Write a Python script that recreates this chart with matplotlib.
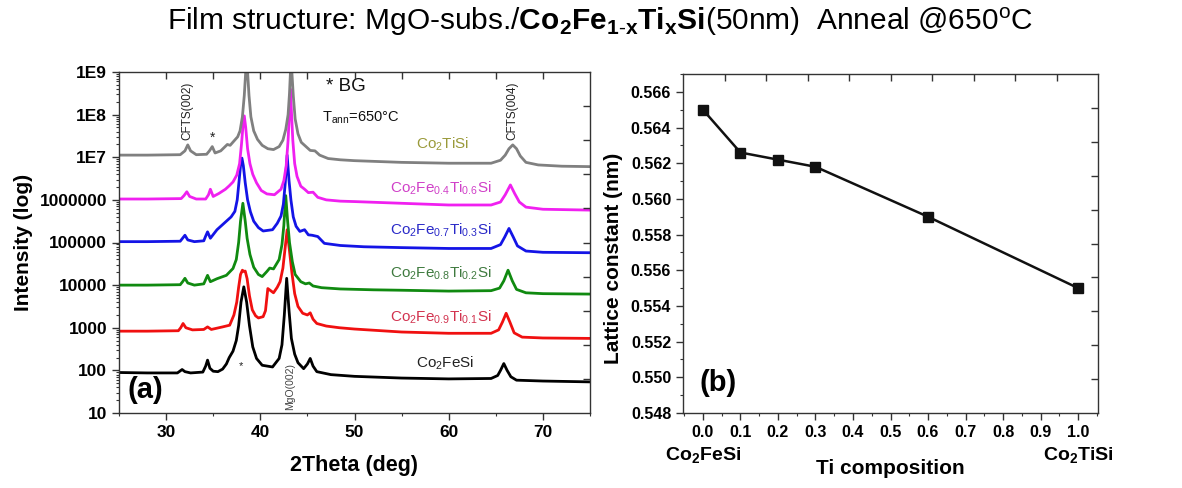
import numpy as np
import matplotlib
matplotlib.use("Agg")
import matplotlib.pyplot as plt
from matplotlib.ticker import MultipleLocator, LogLocator, FormatStrFormatter, NullFormatter

plt.rcParams['font.family'] = ['Liberation Sans', 'DejaVu Sans']
plt.rcParams['mathtext.fontset'] = 'custom'
plt.rcParams['mathtext.rm'] = 'Liberation Sans'
plt.rcParams['mathtext.it'] = 'Liberation Sans:italic'
plt.rcParams['mathtext.bf'] = 'Liberation Sans:bold'
plt.rcParams['mathtext.default'] = 'regular'

# ---------------- XRD scans (2theta in deg, log10 of intensity, offset stacks) ----------------
tt_co2tisi = [25, 28, 31.5, 32.0, 32.3, 32.6, 33.2, 34.3, 34.6, 34.9, 35.2, 35.8, 36.5, 36.8, 37.2,
              37.6, 37.85, 38.1, 38.3, 38.45, 38.55, 38.65, 38.8, 39.0, 39.3, 39.7, 40.2, 40.8, 41.4,
              42.0, 42.4, 42.7, 42.95, 43.1, 43.2, 43.25, 43.35, 43.5, 43.7, 44.0, 44.35, 44.9, 45.3,
              45.8, 46.3, 47.2, 48.5, 50, 55, 60, 64.5, 65.5, 66.0, 66.4, 66.8, 67.2, 67.6, 68.2,
              69.5, 72, 75]
logi_co2tisi = [7.05, 7.05, 7.06, 7.15, 7.29, 7.15, 7.06, 7.07, 7.15, 7.25, 7.1, 7.15, 7.3, 7.28, 7.38,
                7.48, 7.62, 7.95, 8.45, 9.0, 9.6, 9.0, 8.45, 7.95, 7.62, 7.42, 7.28, 7.2, 7.18,
                7.25, 7.4, 7.65, 8.0, 8.5, 9.0, 9.6, 9.0, 8.45, 7.9, 7.55, 7.35, 7.24, 7.16,
                7.15, 7.05, 6.97, 6.94, 6.92, 6.88, 6.86, 6.86, 6.93, 7.05, 7.2, 7.29, 7.2, 7.03, 6.88,
                6.82, 6.79, 6.78]

tt_x06 = [25, 28, 31.6, 31.9, 32.2, 32.5, 33.2, 34.2, 34.5, 34.7, 35.0, 35.6, 36.3, 36.7, 37.1, 37.5,
          37.8, 38.0, 38.15, 38.3, 38.45, 38.65, 38.9, 39.2, 39.6, 40.1, 40.7, 41.5, 42.2, 42.5, 42.75,
          42.95, 43.1, 43.2, 43.3, 43.45, 43.65, 43.9, 44.3, 44.7, 45.1, 45.6, 46.1, 47, 48.5, 50, 55,
          60, 64.5, 65.5, 66.0, 66.55, 67.0, 67.5, 68.2, 70, 75]
logi_x06 = [6.02, 6.02, 6.03, 6.1, 6.19, 6.08, 6.02, 6.02, 6.12, 6.25, 6.08, 6.15, 6.25, 6.33, 6.42, 6.58,
            6.85, 7.3, 7.7, 7.97, 7.7, 7.2, 6.85, 6.6, 6.4, 6.22, 6.14, 6.12, 6.25, 6.45, 6.8,
            7.4, 8.1, 8.6, 8.1, 7.4, 6.85, 6.55, 6.32, 6.25, 6.17, 6.18, 6.06, 6.0, 5.97, 5.96, 5.92,
            5.88, 5.88, 5.95, 6.12, 6.35, 6.15, 5.95, 5.83, 5.78, 5.76]

tt_x03 = [25, 28, 31.5, 31.75, 32.0, 32.3, 33.0, 34.0, 34.2, 34.4, 34.7, 35.4, 36.0, 36.5, 36.9, 37.3,
          37.55, 37.75, 37.9, 38.05, 38.2, 38.4, 38.65, 38.95, 39.3, 39.8, 40.3, 41.3, 41.8, 42.2, 42.45,
          42.65, 42.85, 43.05, 43.25, 43.5, 43.8, 44.2, 44.7, 45.1, 45.5, 46.1, 46.8, 48.5, 51, 55,
          60, 64.5, 65.5, 65.95, 66.4, 66.85, 67.3, 68.2, 70, 75]
logi_x03 = [5.02, 5.02, 5.03, 5.1, 5.17, 5.06, 5.02, 5.04, 5.15, 5.25, 5.1, 5.3, 5.42, 5.52, 5.6, 5.73,
            6.0, 6.45, 6.8, 6.98, 6.8, 6.4, 6.0, 5.72, 5.5, 5.35, 5.27, 5.3, 5.45, 5.62, 5.9,
            6.4, 7.05, 6.45, 6.0, 5.6, 5.38, 5.26, 5.3, 5.18, 5.17, 5.14, 4.98, 4.93, 4.9, 4.88,
            4.86, 4.86, 4.95, 5.13, 5.33, 5.13, 4.92, 4.8, 4.77, 4.76]

tt_x02 = [25, 28, 31.5, 31.75, 32.0, 32.3, 33.0, 34.0, 34.2, 34.4, 34.7, 35.4, 36.4, 37.1, 37.45, 37.7,
          37.9, 38.15, 38.4, 38.6, 38.9, 39.3, 39.8, 40.2, 40.7, 41.0, 41.4, 42.0, 42.3, 42.5, 42.7,
          42.9, 43.1, 43.4, 43.7, 44.3, 44.8, 45.2, 45.6, 46.5, 48.5, 52, 55, 60, 64.5, 65.4, 65.85,
          66.3, 66.75, 67.2, 68.2, 70, 75]
logi_x02 = [4.0, 4.0, 4.01, 4.08, 4.16, 4.05, 4.0, 4.03, 4.13, 4.23, 4.08, 4.15, 4.23, 4.39, 4.6, 5.0,
            5.5, 5.92, 5.5, 5.1, 4.72, 4.42, 4.25, 4.2, 4.32, 4.4, 4.38, 4.6, 4.95, 5.4, 6.1,
            5.5, 5.0, 4.55, 4.25, 4.08, 4.03, 4.05, 3.98, 3.94, 3.91, 3.89, 3.88, 3.86, 3.87, 3.93, 4.1,
            4.35, 4.1, 3.9, 3.82, 3.8, 3.79]

tt_x01 = [25, 28, 31.3, 31.55, 31.8, 32.1, 32.8, 34.0, 34.4, 34.8, 36.0, 36.75, 37.2, 37.5, 37.7,
          37.9, 38.1, 38.25, 38.4, 38.6, 38.85, 39.15, 39.5, 39.8, 40.3, 40.55, 40.8, 41.1, 41.4,
          41.8, 42.1, 42.4, 42.6, 42.85, 43.1, 43.35, 43.65, 44.0, 44.5, 45.0, 45.3, 45.6, 46.0, 47,
          48.4, 50, 55, 60, 64.5, 65.3, 65.7, 66.1, 66.5, 66.95, 67.8, 70, 75]
logi_x01 = [2.92, 2.92, 2.93, 3.0, 3.1, 3.0, 2.95, 2.96, 3.02, 2.96, 3.02, 3.06, 3.3, 3.6, 3.95,
            4.25, 4.35, 4.32, 4.33, 4.15, 3.75, 3.42, 3.28, 3.23, 3.26, 3.4, 3.92, 3.87, 3.82,
            3.95, 4.08, 4.4, 4.8, 5.3, 4.8, 4.3, 3.8, 3.5, 3.34, 3.3, 3.35, 3.2, 3.1, 3.04,
            3.0, 2.97, 2.9, 2.87, 2.87, 2.95, 3.13, 3.34, 3.13, 2.88, 2.78, 2.76, 2.75]

tt_co2fesi = [25, 28, 31.2, 31.45, 31.7, 32.0, 32.6, 33.9, 34.2, 34.4, 34.65, 35.0, 35.5, 36.0, 36.4,
              36.7, 37.1, 37.45, 37.7, 37.95, 38.25, 38.55, 38.85, 39.2, 39.6, 40.2, 41.3, 42.0, 42.3,
              42.55, 42.8, 43.05, 43.3, 43.65, 44.0, 44.6, 45.0, 45.3, 45.6, 46.0, 47.5, 50, 55, 60,
              64.5, 65.2, 65.5, 65.85, 66.2, 66.6, 67.2, 70, 75]
logi_co2fesi = [1.95, 1.94, 1.94, 1.98, 2.02, 1.97, 1.94, 1.96, 2.1, 2.24, 2.05, 1.98, 1.97, 2.03, 2.15,
                2.3, 2.45, 2.7, 3.05, 3.6, 3.96, 3.6, 3.05, 2.55, 2.28, 2.12, 2.08, 2.28, 2.6,
                3.3, 4.16, 3.4, 2.75, 2.38, 2.18, 2.04, 2.15, 2.28, 2.1, 1.97, 1.9, 1.86, 1.82, 1.8,
                1.81, 1.88, 2.0, 2.16, 2.0, 1.85, 1.77, 1.75, 1.73]

# ---------------- lattice constant vs Ti content ----------------
ti_x = [0.0, 0.1, 0.2, 0.3, 0.6, 1.0]
lattice_nm = [0.5650, 0.5626, 0.5622, 0.5618, 0.5590, 0.5550]

y_ticks = [1e1, 1e2, 1e3, 1e4, 1e5, 1e6, 1e7, 1e8, 1e9]
y_tick_labels = ["10", "100", "1000", "10000", "100000", "1000000", "1E7", "1E8", "1E9"]

W, H = 1182, 488
fig = plt.figure(figsize=(W / 100, H / 100), dpi=100)

def rect(x0, y0, x1, y1):
    return [x0 / W, 1 - y1 / H, (x1 - x0) / W, (y1 - y0) / H]

def add_div_ticks(r):
    # Origin-style mirrored ticks: ten equal divisions on the top and right sides
    ov = fig.add_axes(r, frameon=False)
    ov.patch.set_visible(False)
    ov.set_xlim(0, 1)
    ov.set_ylim(0, 1)
    ov.xaxis.tick_top()
    ov.yaxis.tick_right()
    ov.set_xticks(np.linspace(0.1, 0.9, 9))
    ov.set_yticks(np.linspace(0.1, 0.9, 9))
    ov.tick_params(direction='in', length=5, width=1.0, color='#333333',
                   labeltop=False, labelright=False)
    return ov

# ================= panel (a) =================
ra = rect(119, 72, 590, 413)
ax = fig.add_axes(ra)
series = [
    (tt_co2fesi, logi_co2fesi, '#000000'),
    (tt_x01, logi_x01, '#f01010'),
    (tt_x02, logi_x02, '#108a10'),
    (tt_x03, logi_x03, '#1414e6'),
    (tt_x06, logi_x06, '#f020f0'),
    (tt_co2tisi, logi_co2tisi, '#808080'),
]
for tt, li, c in series:
    ax.plot(tt, 10 ** np.asarray(li), color=c, lw=2.0, solid_joinstyle='round')

ax.set_yscale('log')
ax.set_xlim(25, 75)
ax.set_ylim(1e1, 1e9)
ax.set_yticks(y_ticks)
ax.set_yticklabels(y_tick_labels)
ax.yaxis.set_minor_locator(LogLocator(base=10, subs=np.arange(2, 10)))
ax.yaxis.set_minor_formatter(NullFormatter())
ax.xaxis.set_major_locator(MultipleLocator(10))
ax.xaxis.set_minor_locator(MultipleLocator(5))
ax.tick_params(which='both', direction='out', top=False, right=False, color='#333333')
ax.tick_params(which='major', length=5, width=1.0, labelsize=12.5)
ax.tick_params(which='minor', length=2.5, width=0.8)
for lab in ax.get_xticklabels() + ax.get_yticklabels():
    lab.set_fontweight('bold')
for s in ax.spines.values():
    s.set_linewidth(1.0)
    s.set_color('#333333')
ax.set_xlabel("2Theta (deg)", fontsize=15.5, fontweight='bold', labelpad=11)
ax.set_ylabel("Intensity (log)", fontsize=15, fontweight='bold', labelpad=5)
add_div_ticks(ra)

# peak annotations
ax.text(32.3, 10 ** 8.08, "CFTS(002)", rotation=90, ha='center', va='center', fontsize=8.5, color='#222222')
ax.text(66.8, 10 ** 8.1, "CFTS(004)", rotation=90, ha='center', va='center', fontsize=8.5, color='#222222')
ax.text(43.15, 10 ** 1.62, "MgO(002)", rotation=90, ha='center', va='center', fontsize=7.5, color='#444444')
ax.text(34.9, 10 ** 7.45, "*", ha='center', va='center', fontsize=10, color='#222222')
ax.text(38.0, 10 ** 2.1, "*", ha='center', va='center', fontsize=8, color='#222222')
ax.text(47.0, 10 ** 8.66, "* BG", ha='left', va='center', fontsize=13.5, color='#111111')
ax.text(46.6, 10 ** 7.92, r"T$_{ann}$=650°C", ha='left', va='center', fontsize=10.5, color='#111111')
ax.text(25.9, 10 ** 1.55, "(a)", ha='left', va='center', fontsize=21, fontweight='bold')

labels = [
    (59.4, 7.31, r"Co$_2$TiSi", '#9a9a3a'),
    (59.2, 6.28, r"Co$_2$Fe$_{0.4}$Ti$_{0.6}$Si", '#d040c8'),
    (59.2, 5.29, r"Co$_2$Fe$_{0.7}$Ti$_{0.3}$Si", '#2a2ac8'),
    (59.2, 4.28, r"Co$_2$Fe$_{0.8}$Ti$_{0.2}$Si", '#3f7a3f'),
    (59.2, 3.25, r"Co$_2$Fe$_{0.9}$Ti$_{0.1}$Si", '#d2324e'),
    (59.6, 2.17, r"Co$_2$FeSi", '#222222'),
]
for x, ly, t, c in labels:
    ax.text(x, 10 ** ly, t, ha='center', va='center', fontsize=11, color=c)

# ================= panel (b) =================
rb = rect(683, 74, 1098, 413)
bx = fig.add_axes(rb)
bx.plot(ti_x, lattice_nm, color='#111111', lw=1.8, marker='s', markersize=7.5,
        markerfacecolor='#111111', markeredgecolor='#111111')
bx.set_xlim(-0.053, 1.053)
bx.set_ylim(0.548, 0.567)
bx.xaxis.set_major_locator(MultipleLocator(0.1))
bx.xaxis.set_minor_locator(MultipleLocator(0.05))
bx.yaxis.set_major_locator(MultipleLocator(0.002))
bx.yaxis.set_minor_locator(MultipleLocator(0.001))
bx.xaxis.set_major_formatter(FormatStrFormatter('%.1f'))
bx.yaxis.set_major_formatter(FormatStrFormatter('%.3f'))
bx.tick_params(which='both', direction='out', top=False, right=False, color='#333333')
bx.tick_params(which='major', length=5, width=1.0, labelsize=11.5)
bx.tick_params(which='minor', length=2.5, width=0.8)
for lab in bx.get_xticklabels() + bx.get_yticklabels():
    lab.set_fontweight('bold')
for s in bx.spines.values():
    s.set_linewidth(1.0)
    s.set_color('#333333')
bx.set_ylabel("Lattice constant (nm)", fontsize=15, fontweight='bold')
bx.yaxis.set_label_coords(-0.145, 0.457)
bx.set_xlabel("Ti composition", fontsize=15, fontweight='bold', labelpad=14)
bx.text(0.0, -0.125, r"Co$_2$FeSi", transform=bx.get_xaxis_transform(), ha='center', va='center',
        fontsize=14, fontweight='bold')
bx.text(1.0, -0.125, r"Co$_2$TiSi", transform=bx.get_xaxis_transform(), ha='center', va='center',
        fontsize=14, fontweight='bold')
bx.text(-0.01, 0.5497, "(b)", ha='left', va='center', fontsize=21, fontweight='bold')
add_div_ticks(rb)

fig.text(600 / W, 1 - 22 / H,
         r"Film structure: MgO-subs./$\mathbf{Co_2Fe_{1\text{-}x}Ti_xSi}$(50nm)  Anneal @650$^o$C",
         ha='center', va='center', fontsize=21.5)

fig.savefig("out.png", dpi=100)
